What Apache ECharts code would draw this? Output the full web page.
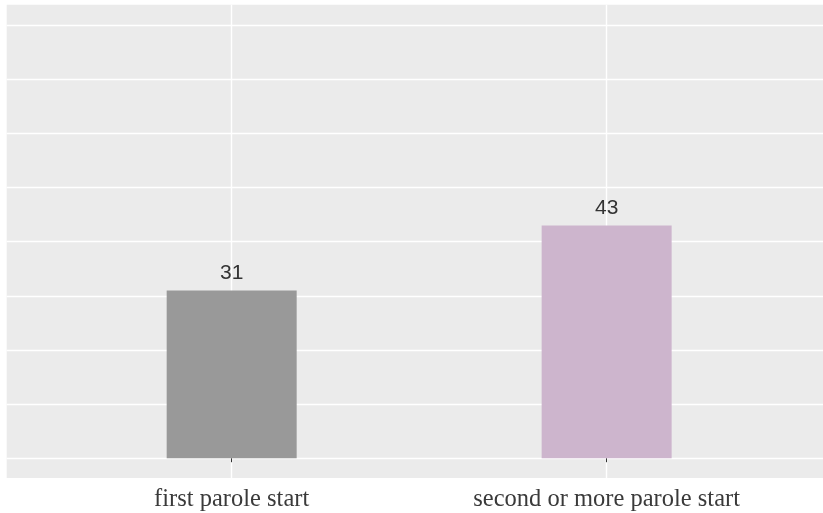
<!DOCTYPE html>
<html><head><meta charset="utf-8">
<script src="https://cdn.jsdelivr.net/npm/echarts@6/dist/echarts.min.js"></script>
<style>html,body{margin:0;padding:0;background:#fff}#c{width:823px;height:513px}</style>
</head><body><div id="c"></div>
<script>
const categories = ['first parole start', 'second or more parole start'];
const values = [31, 43];
const barColors = ['#999999', '#CDB5CD'];
const xPositions = [1, 2];
const yTicks = [0, 10, 20, 30, 40, 50, 60, 70, 80];

const chart = echarts.init(document.getElementById('c'), null, {renderer: 'canvas'});
chart.setOption({
  animation: false,
  backgroundColor: '#ffffff',
  grid: {left: 6.7, right: 0, top: 4.7, bottom: 35, show: true, backgroundColor: '#EBEBEB', borderWidth: 0},
  xAxis: {
    type: 'value', min: 0.4, max: 2.577,
    axisLine: {show: false},
    axisTick: {show: true, customValues: xPositions, length: 4, lineStyle: {color: '#333333', width: 1}},
    axisLabel: {customValues: xPositions, formatter: v => categories[Math.round(v) - 1],
      fontFamily: 'Liberation Serif', fontSize: 24.5, color: '#3a3a3a', margin: 9},
    splitLine: {show: true, lineStyle: {color: '#ffffff', width: 1.4}}
  },
  yAxis: {
    type: 'value', min: -3.66, max: 83.8,
    axisLine: {show: false},
    axisTick: {show: false, customValues: yTicks},
    axisLabel: {show: false, customValues: yTicks},
    splitLine: {show: true, lineStyle: {color: '#ffffff', width: 1.4}}
  },
  series: [{
    type: 'bar',
    barWidth: 130,
    data: values.map((v, i) => ({value: [xPositions[i], v], itemStyle: {color: barColors[i]}})),
    label: {show: true, position: 'top', distance: 7, fontFamily: 'Liberation Sans', fontSize: 21, color: '#333333',
      formatter: p => p.value[1]}
  }]
});
</script></body></html>
